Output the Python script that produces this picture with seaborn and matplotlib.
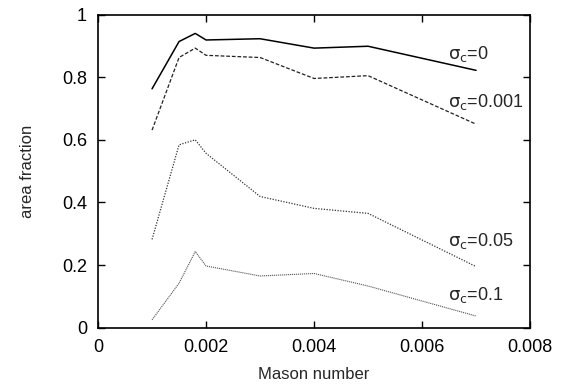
import matplotlib
matplotlib.use("Agg")
import matplotlib.pyplot as plt
import seaborn as sns
import pandas as pd

mason = [0.001, 0.0015, 0.0018, 0.002, 0.003, 0.004, 0.005, 0.007]
sigma0 = [0.763, 0.914, 0.940, 0.919, 0.923, 0.893, 0.899, 0.822]
sigma0001 = [0.631, 0.863, 0.893, 0.870, 0.863, 0.796, 0.805, 0.650]
sigma005 = [0.282, 0.584, 0.600, 0.557, 0.419, 0.381, 0.365, 0.195]
sigma01 = [0.025, 0.142, 0.243, 0.197, 0.165, 0.173, 0.133, 0.037]
labels = [r"$\sigma_c$=0", r"$\sigma_c$=0.001", r"$\sigma_c$=0.05", r"$\sigma_c$=0.1"]
xticks = [0, 0.002, 0.004, 0.006, 0.008]
xticklabels = ["0", "0.002", "0.004", "0.006", "0.008"]
yticks = [0, 0.2, 0.4, 0.6, 0.8, 1.0]
yticklabels = ["0", "0.2", "0.4", "0.6", "0.8", "1"]

sns.set_theme(style="ticks")
plt.rcParams['font.family'] = ['Liberation Sans', 'DejaVu Sans']
plt.rcParams['mathtext.fontset'] = 'custom'
plt.rcParams['mathtext.rm'] = 'Liberation Sans'
plt.rcParams['mathtext.it'] = 'DejaVu Sans'

fig = plt.figure(figsize=(5.7, 3.85), dpi=100)
ax = fig.add_axes([0.172, 0.149, 0.758, 0.813])

series = [sigma0, sigma0001, sigma005, sigma01]
styles = [dict(color="black", linestyle="-", linewidth=1.1),
          dict(color="#222222", linestyle=(0, (3, 1.5)), linewidth=0.9),
          dict(color="#333333", linestyle=(0, (1, 1.2)), linewidth=0.9),
          dict(color="#555555", linestyle=(0, (1, 0.8)), linewidth=0.8)]
label_y = [0.873, 0.72, 0.277, 0.105]
for vals, st, lab, ly in zip(series, styles, labels, label_y):
    df = pd.DataFrame({"x": mason, "y": vals})
    sns.lineplot(data=df, x="x", y="y", ax=ax, **st)
    ax.text(0.00648, ly, lab, fontsize=13, ha="left", va="center")

ax.set_xlim(0, 0.008)
ax.set_ylim(0, 1)
ax.set_xticks(xticks)
ax.set_xticklabels(xticklabels)
ax.set_yticks(yticks)
ax.set_yticklabels(yticklabels)
ax.tick_params(direction="in", top=True, right=True, labelsize=13, length=5, width=1, pad=8, colors="black")
for s in ax.spines.values():
    s.set_linewidth(1.2)
    s.set_color("black")
ax.set_xlabel("Mason number", fontsize=12, labelpad=8)
ax.set_ylabel("area fraction", fontsize=12, labelpad=19)
fig.savefig("out.png", dpi=100)
